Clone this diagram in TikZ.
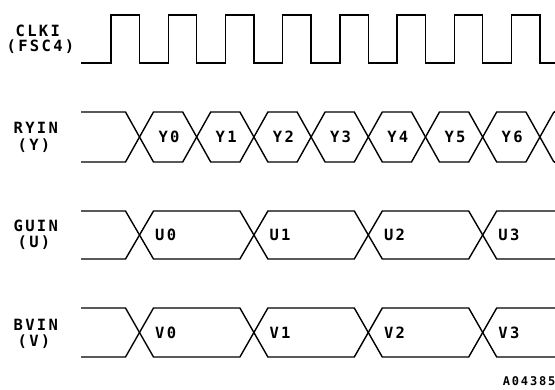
\documentclass[tikz,border=0pt]{standalone}
\usepackage{fontspec}
\newfontfamily\plotfont[LetterSpace=15]{DejaVu Sans Mono}
\newcommand\hexcell[4]{%
  \draw ({#1},{(#3+#4)/2}) -- ({#1+14},#3) -- ({#2-14},#3) -- ({#2},{(#3+#4)/2})
        -- ({#2-14},#4) -- ({#1+14},#4) -- cycle;}
\begin{document}
\begin{tikzpicture}[x=1pt,y=-1pt,line width=1.4pt,line join=miter,
  lbl/.style={font=\plotfont\bfseries\fontsize{15.5}{15.5}\selectfont,inner sep=0pt},
  cell/.style={font=\plotfont\bfseries\fontsize{15.5}{15.5}\selectfont,inner sep=0pt}]
\useasboundingbox (0,0) rectangle (555,389);
% labels
\node[lbl,anchor=west] (clkA) at (15,31) {CLKI};
\node[lbl,anchor=west] (clkB) at (6,47) {(FSC4)};
\node[lbl,anchor=west] (ryA) at (13,128) {RYIN};
\node[lbl,anchor=west] (ryB) at (17,146) {(Y)};
\node[lbl,anchor=west] (guA) at (13,226) {GUIN};
\node[lbl,anchor=west] (guB) at (17,243) {(U)};
\node[lbl,anchor=west] (bvA) at (13,325) {BVIN};
\node[lbl,anchor=west] (bvB) at (17,342) {(V)};
% clock
\draw (81,63) \foreach \k in {0,...,7}{
  -- ({111+57.2*\k},63) -- ({111+57.2*\k},15) -- ({139.5+57.2*\k},15) -- ({139.5+57.2*\k},63)}
  -- (555,63);
% Y row
\draw (81,112) -- (125.5,112) -- (139.5,137) -- (125.5,162) -- (81,162);
\foreach \k in {0,...,6}{
  \hexcell{139.5+57.2*\k}{139.5+57.2*(\k+1)}{112}{162}
  \node[cell] (y\k) at ({169+57.2*\k},137) {Y\k};
}
\draw (553.9,112) -- (539.9,137) -- (553.9,162);
\draw (553.9,112) -- (555,112);
\draw (553.9,162) -- (555,162);
% U row
\draw (81,211) -- (125.5,211) -- (139.5,235) -- (125.5,259) -- (81,259);
\foreach \k/\a/\b in {0/139.5/253.9,1/253.9/368.3,2/368.3/482.7}{
  \hexcell{\a}{\b}{211}{259}
  \node[cell,anchor=west] (u\k) at ({\a+15},235) {U\k};
}
\draw (555,211) -- (496.7,211) -- (482.7,235) -- (496.7,259) -- (555,259);
\node[cell,anchor=west] (u3) at (497.7,235) {U3};
% V row
\draw (81,308) -- (125.5,308) -- (139.5,332.5) -- (125.5,357) -- (81,357);
\foreach \k/\a/\b in {0/139.5/253.9,1/253.9/368.3,2/368.3/482.7}{
  \hexcell{\a}{\b}{308}{357}
  \node[cell,anchor=west] (v\k) at ({\a+15},332.5) {V\k};
}
\draw (555,308) -- (496.7,308) -- (482.7,332.5) -- (496.7,357) -- (555,357);
\node[cell,anchor=west] (v3) at (497.7,332.5) {V3};
% figure code
\node[font=\plotfont\bfseries\fontsize{12}{12}\selectfont,inner sep=0pt,anchor=east] (code) at (556,381) {A04385};
\end{tikzpicture}
\end{document}
